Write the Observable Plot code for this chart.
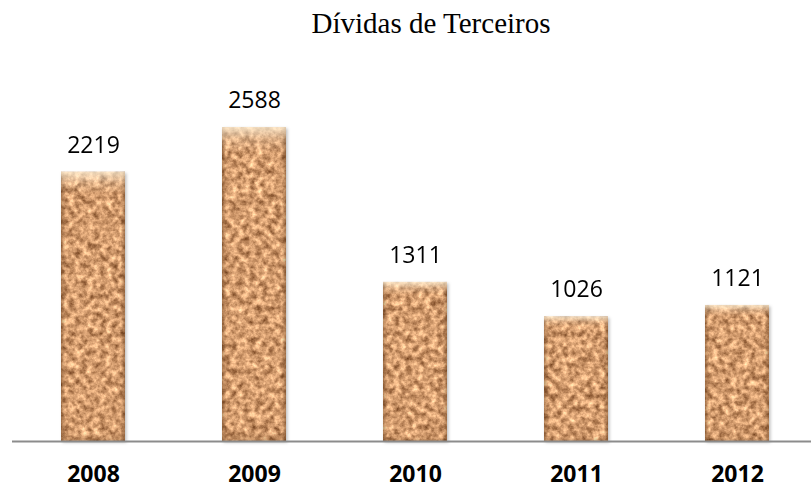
<!DOCTYPE html>
<html>
<head>
<meta charset="utf-8">
<script src="https://cdn.jsdelivr.net/npm/d3@7"></script>
<script src="https://cdn.jsdelivr.net/npm/@observablehq/plot@0.6"></script>
<style>
  html, body { margin: 0; padding: 0; background: #fff; }
  #title { height: 50px; width: 811px; position: relative; font-family: "Liberation Serif", "DejaVu Serif", serif; font-size: 29px; color: #000; }
  #title span { position: absolute; left: 0; width: 862px; text-align: center; top: 7px; }
  #chart svg { display: block; }
</style>
</head>
<body>
<div id="title"><span>Dívidas de Terceiros</span></div>
<div id="chart"></div>
<script>
const years = ["2008", "2009", "2010", "2011", "2012"];
const values = [2219, 2588, 1311, 1026, 1121];

const data = years.map((year, i) => ({year, value: values[i]}));

const plot = Plot.plot({
  width: 811,
  height: 438,
  marginLeft: 12,
  marginRight: 0,
  marginTop: 0,
  marginBottom: 0,
  x: {domain: years, range: [13, 818], paddingInner: 0.6, paddingOuter: 0.3, axis: null},
  y: {domain: [0, 2588], range: [391, 77], axis: null},
  marks: [
    Plot.barY(data, {x: "year", y: "value", fill: "#c99560", inset: 0}),
    Plot.barY(data, {x: "year", y: "value", fill: "url(#bevelH)", inset: 0}),
    Plot.barY(data, {x: "year", y: "value", fill: "url(#bevelV)", inset: 0}),
    Plot.ruleY([0], {stroke: "#8c8c8c", strokeWidth: 2}),
    Plot.text(data, {x: "year", y: "value", text: d => String(d.value), dy: -27, fontSize: 23, fill: "#000", fontFamily: "Open Sans"}),
    Plot.text(data, {x: "year", y: () => 0, text: "year", dy: 33, fontSize: 23, fontWeight: "bold", fill: "#000", fontFamily: "Open Sans"})
  ]
});

const ns = "http://www.w3.org/2000/svg";
const defs = document.createElementNS(ns, "defs");
defs.innerHTML = `
  <filter id="cork" x="0" y="0" width="1" height="1" color-interpolation-filters="sRGB">
    <feTurbulence type="fractalNoise" baseFrequency="0.16" numOctaves="4" seed="7" result="n"/>
    <feColorMatrix in="n" type="matrix" values="0.9 0 0 0 0.38  0.85 0 0 0 0.19  0.75 0 0 0 0.06  0 0 0 0 1" result="c"/>
    <feComposite in="c" in2="SourceGraphic" operator="in"/>
  </filter>
  <filter id="shadow" x="-0.2" y="-0.1" width="1.4" height="1.2">
    <feDropShadow dx="1.5" dy="1.5" stdDeviation="1.5" flood-color="#000" flood-opacity="0.25"/>
  </filter>
  <linearGradient id="bevelH" x1="0" x2="1" y1="0" y2="0">
    <stop offset="0" stop-color="#5a3212" stop-opacity="0.45"/>
    <stop offset="0.07" stop-color="#5a3212" stop-opacity="0"/>
    <stop offset="0.93" stop-color="#5a3212" stop-opacity="0"/>
    <stop offset="1" stop-color="#5a3212" stop-opacity="0.45"/>
  </linearGradient>
  <linearGradient id="bevelV" x1="0" x2="0" y1="0" y2="1" gradientUnits="objectBoundingBox">
    <stop offset="0" stop-color="#fff4dc" stop-opacity="0.75"/>
    <stop offset="0.04" stop-color="#fff4dc" stop-opacity="0.2"/>
    <stop offset="0.08" stop-color="#fff4dc" stop-opacity="0"/>
    <stop offset="0.97" stop-color="#5a3212" stop-opacity="0"/>
    <stop offset="1" stop-color="#5a3212" stop-opacity="0.3"/>
  </linearGradient>`;
plot.insertBefore(defs, plot.firstChild);
const barGroups = plot.querySelectorAll('g[aria-label="bar"]');
if (barGroups.length) {
  barGroups[0].setAttribute("filter", "url(#shadow)");
  barGroups[0].querySelectorAll("rect").forEach(r => r.setAttribute("filter", "url(#cork)"));
}
document.getElementById("chart").appendChild(plot);
</script>
</body>
</html>
